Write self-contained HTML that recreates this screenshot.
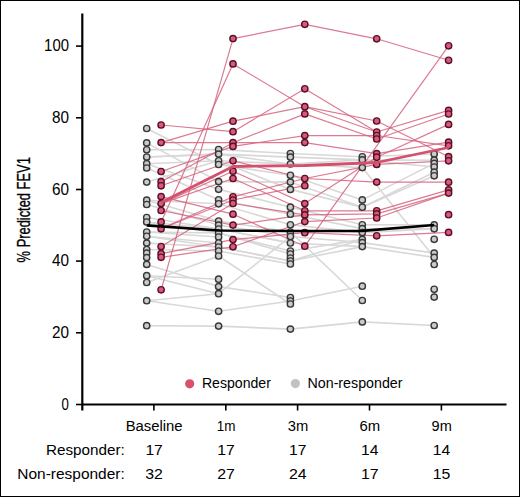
<!DOCTYPE html>
<html><head><meta charset="utf-8"><style>
html,body{margin:0;padding:0;background:#fff;}
body{width:520px;height:497px;overflow:hidden;}
svg{display:block;}
.t{font-family:"Liberation Sans",sans-serif;fill:#000;}
.l{font-family:"Liberation Sans",sans-serif;fill:#000;}
.yt{font-family:"Liberation Sans",sans-serif;fill:#000;stroke:#000;stroke-width:0.3px;}
</style></head><body>
<svg width="520" height="497" viewBox="0 0 520 497">
<rect x="0.5" y="0.5" width="519" height="496" fill="#fff" stroke="#000" stroke-width="1"/>
<polyline points="146.7,128.5 218.6,164.5 290.4,175.3 362.3,199.9 434.2,163.4" fill="none" stroke="#d8d8d8" stroke-width="1.6" stroke-opacity="1" stroke-linejoin="round"/>
<polyline points="146.7,142.9 218.6,181.6 290.4,182.1 362.3,207.2 434.2,172.2" fill="none" stroke="#d8d8d8" stroke-width="1.6" stroke-opacity="1" stroke-linejoin="round"/>
<polyline points="146.7,149.8 218.6,149.5 290.4,153.5 362.3,156.8 434.2,154.0" fill="none" stroke="#d8d8d8" stroke-width="1.6" stroke-opacity="1" stroke-linejoin="round"/>
<polyline points="146.7,157.0 218.6,154.1 290.4,157.1 362.3,159.9 434.2,160.2" fill="none" stroke="#d8d8d8" stroke-width="1.6" stroke-opacity="1" stroke-linejoin="round"/>
<polyline points="146.7,157.0 218.6,154.1 290.4,164.0 362.3,167.6 434.2,257.4" fill="none" stroke="#d8d8d8" stroke-width="1.6" stroke-opacity="1" stroke-linejoin="round"/>
<polyline points="146.7,163.7 218.6,160.8 290.4,189.4 362.3,207.2 434.2,175.8" fill="none" stroke="#d8d8d8" stroke-width="1.6" stroke-opacity="1" stroke-linejoin="round"/>
<polyline points="146.7,163.7 218.6,189.3 290.4,207.2 362.3,224.8 434.2,224.9" fill="none" stroke="#d8d8d8" stroke-width="1.6" stroke-opacity="1" stroke-linejoin="round"/>
<polyline points="146.7,168.0 218.6,199.8 290.4,214.2 362.3,228.6 434.2,228.8" fill="none" stroke="#d8d8d8" stroke-width="1.6" stroke-opacity="1" stroke-linejoin="round"/>
<polyline points="146.7,182.1 218.6,160.8 290.4,164.0 362.3,159.9 434.2,167.0" fill="none" stroke="#d8d8d8" stroke-width="1.6" stroke-opacity="1" stroke-linejoin="round"/>
<polyline points="146.7,200.2 218.6,203.8 290.4,224.8 362.3,232.6 434.2,228.8" fill="none" stroke="#d8d8d8" stroke-width="1.6" stroke-opacity="1" stroke-linejoin="round"/>
<polyline points="146.7,200.2 218.6,221.0 290.4,232.0 362.3,300.5" fill="none" stroke="#d8d8d8" stroke-width="1.6" stroke-opacity="1" stroke-linejoin="round"/>
<polyline points="146.7,204.5 218.6,225.1 290.4,236.5 362.3,242.6 434.2,253.1" fill="none" stroke="#d8d8d8" stroke-width="1.6" stroke-opacity="1" stroke-linejoin="round"/>
<polyline points="146.7,217.5 218.6,229.0 290.4,243.0 362.3,246.6 434.2,257.4" fill="none" stroke="#d8d8d8" stroke-width="1.6" stroke-opacity="1" stroke-linejoin="round"/>
<polyline points="146.7,222.0 218.6,229.0 290.4,243.0" fill="none" stroke="#d8d8d8" stroke-width="1.6" stroke-opacity="1" stroke-linejoin="round"/>
<polyline points="146.7,222.0 218.6,233.0 290.4,251.0 362.3,239.4" fill="none" stroke="#d8d8d8" stroke-width="1.6" stroke-opacity="1" stroke-linejoin="round"/>
<polyline points="146.7,232.0 218.6,233.0 290.4,254.0" fill="none" stroke="#d8d8d8" stroke-width="1.6" stroke-opacity="1" stroke-linejoin="round"/>
<polyline points="146.7,232.0 218.6,237.0" fill="none" stroke="#d8d8d8" stroke-width="1.6" stroke-opacity="1" stroke-linejoin="round"/>
<polyline points="146.7,236.3 218.6,243.0" fill="none" stroke="#d8d8d8" stroke-width="1.6" stroke-opacity="1" stroke-linejoin="round"/>
<polyline points="146.7,236.3 218.6,247.0 290.4,261.0 362.3,246.6" fill="none" stroke="#d8d8d8" stroke-width="1.6" stroke-opacity="1" stroke-linejoin="round"/>
<polyline points="146.7,243.1 218.6,247.0 290.4,261.0 362.3,239.4" fill="none" stroke="#d8d8d8" stroke-width="1.6" stroke-opacity="1" stroke-linejoin="round"/>
<polyline points="146.7,249.5 218.6,251.0 290.4,264.0" fill="none" stroke="#d8d8d8" stroke-width="1.6" stroke-opacity="1" stroke-linejoin="round"/>

<polyline points="146.7,282.5 218.6,256.0 290.4,304.0" fill="none" stroke="#d8d8d8" stroke-width="1.6" stroke-opacity="1" stroke-linejoin="round"/>


<polyline points="146.7,275.7 218.6,279.2" fill="none" stroke="#d8d8d8" stroke-width="1.6" stroke-opacity="1" stroke-linejoin="round"/>

<polyline points="146.7,275.7 218.6,293.7 290.4,236.5" fill="none" stroke="#d8d8d8" stroke-width="1.6" stroke-opacity="1" stroke-linejoin="round"/>
<polyline points="146.7,264.4 218.6,286.6 290.4,297.5" fill="none" stroke="#d8d8d8" stroke-width="1.6" stroke-opacity="1" stroke-linejoin="round"/>
<polyline points="146.7,300.7 218.6,311.3 290.4,301.0 362.3,286.2" fill="none" stroke="#d8d8d8" stroke-width="1.6" stroke-opacity="1" stroke-linejoin="round"/>
<polyline points="146.7,300.7 218.6,293.7" fill="none" stroke="#d8d8d8" stroke-width="1.6" stroke-opacity="1" stroke-linejoin="round"/>
<polyline points="146.7,325.7 218.6,326.1 290.4,329.1 362.3,321.9 434.2,325.5" fill="none" stroke="#d8d8d8" stroke-width="1.6" stroke-opacity="1" stroke-linejoin="round"/>
<polyline points="161.1,289.8 233.0,38.6 304.8,24.3 376.7,38.8 448.6,60.3" fill="none" stroke="#d6637f" stroke-width="1.2" stroke-opacity="0.85" stroke-linejoin="round"/>
<polyline points="161.1,221.9 233.0,63.9 304.8,106.7 376.7,121.0 448.6,156.7" fill="none" stroke="#d6637f" stroke-width="1.2" stroke-opacity="0.85" stroke-linejoin="round"/>
<polyline points="161.1,142.6 233.0,121.2 304.8,106.7 376.7,132.0" fill="none" stroke="#d6637f" stroke-width="1.2" stroke-opacity="0.85" stroke-linejoin="round"/>
<polyline points="161.1,125.0 233.0,131.7 304.8,88.8 376.7,132.0 448.6,110.4" fill="none" stroke="#d6637f" stroke-width="1.2" stroke-opacity="0.85" stroke-linejoin="round"/>
<polyline points="161.1,142.6 233.0,142.7 304.8,113.9 376.7,139.0 448.6,114.0" fill="none" stroke="#d6637f" stroke-width="1.2" stroke-opacity="0.85" stroke-linejoin="round"/>
<polyline points="161.1,171.5 233.0,146.4 304.8,135.6 376.7,135.5 448.6,145.8" fill="none" stroke="#d6637f" stroke-width="1.2" stroke-opacity="0.85" stroke-linejoin="round"/>
<polyline points="161.1,181.7 233.0,142.7 304.8,142.6 376.7,153.6 448.6,142.2" fill="none" stroke="#d6637f" stroke-width="1.2" stroke-opacity="0.85" stroke-linejoin="round"/>
<polyline points="161.1,185.8 233.0,160.8 304.8,178.5 376.7,182.1 448.6,182.2" fill="none" stroke="#d6637f" stroke-width="1.2" stroke-opacity="0.85" stroke-linejoin="round"/>
<polyline points="161.1,203.6 233.0,171.2 304.8,203.6 376.7,157.2 448.6,124.4" fill="none" stroke="#d6637f" stroke-width="1.2" stroke-opacity="0.85" stroke-linejoin="round"/>
<polyline points="161.1,203.6 233.0,178.5 304.8,210.8 376.7,210.8 448.6,189.9" fill="none" stroke="#d6637f" stroke-width="1.2" stroke-opacity="0.85" stroke-linejoin="round"/>
<polyline points="161.1,228.8 233.0,196.8 304.8,178.5 376.7,164.4 448.6,160.8" fill="none" stroke="#d6637f" stroke-width="1.2" stroke-opacity="0.85" stroke-linejoin="round"/>
<polyline points="161.1,228.8 233.0,200.0 304.8,185.7" fill="none" stroke="#d6637f" stroke-width="1.2" stroke-opacity="0.85" stroke-linejoin="round"/>
<polyline points="161.1,196.6 233.0,214.2 304.8,246.2 448.6,45.8" fill="none" stroke="#d6637f" stroke-width="1.2" stroke-opacity="0.85" stroke-linejoin="round"/>
<polyline points="161.1,246.5 233.0,203.5 304.8,214.9 376.7,213.9 448.6,193.1" fill="none" stroke="#d6637f" stroke-width="1.2" stroke-opacity="0.85" stroke-linejoin="round"/>
<polyline points="161.1,210.5 233.0,225.1 304.8,214.9" fill="none" stroke="#d6637f" stroke-width="1.2" stroke-opacity="0.85" stroke-linejoin="round"/>
<polyline points="161.1,253.7 233.0,239.6 304.8,232.7 376.7,235.8 448.6,232.4" fill="none" stroke="#d6637f" stroke-width="1.2" stroke-opacity="0.85" stroke-linejoin="round"/>
<polyline points="161.1,257.3 233.0,246.8 304.8,221.6 376.7,218.0 448.6,193.1" fill="none" stroke="#d6637f" stroke-width="1.2" stroke-opacity="0.85" stroke-linejoin="round"/>
<circle cx="146.7" cy="128.5" r="3.15" fill="#cbcbcb" stroke="#383838" stroke-width="1.4"/>
<circle cx="146.7" cy="142.9" r="3.15" fill="#cbcbcb" stroke="#383838" stroke-width="1.4"/>
<circle cx="146.7" cy="149.8" r="3.15" fill="#cbcbcb" stroke="#383838" stroke-width="1.4"/>
<circle cx="146.7" cy="157.0" r="3.15" fill="#cbcbcb" stroke="#383838" stroke-width="1.4"/>
<circle cx="146.7" cy="163.7" r="3.15" fill="#cbcbcb" stroke="#383838" stroke-width="1.4"/>
<circle cx="146.7" cy="168.0" r="3.15" fill="#cbcbcb" stroke="#383838" stroke-width="1.4"/>
<circle cx="146.7" cy="182.1" r="3.15" fill="#cbcbcb" stroke="#383838" stroke-width="1.4"/>
<circle cx="146.7" cy="200.2" r="3.15" fill="#cbcbcb" stroke="#383838" stroke-width="1.4"/>
<circle cx="146.7" cy="204.5" r="3.15" fill="#cbcbcb" stroke="#383838" stroke-width="1.4"/>
<circle cx="146.7" cy="217.5" r="3.15" fill="#cbcbcb" stroke="#383838" stroke-width="1.4"/>
<circle cx="146.7" cy="222.0" r="3.15" fill="#cbcbcb" stroke="#383838" stroke-width="1.4"/>
<circle cx="146.7" cy="232.0" r="3.15" fill="#cbcbcb" stroke="#383838" stroke-width="1.4"/>
<circle cx="146.7" cy="236.3" r="3.15" fill="#cbcbcb" stroke="#383838" stroke-width="1.4"/>
<circle cx="146.7" cy="243.1" r="3.15" fill="#cbcbcb" stroke="#383838" stroke-width="1.4"/>
<circle cx="146.7" cy="249.5" r="3.15" fill="#cbcbcb" stroke="#383838" stroke-width="1.4"/>
<circle cx="146.7" cy="253.1" r="3.15" fill="#cbcbcb" stroke="#383838" stroke-width="1.4"/>
<circle cx="146.7" cy="257.6" r="3.15" fill="#cbcbcb" stroke="#383838" stroke-width="1.4"/>
<circle cx="146.7" cy="264.4" r="3.15" fill="#cbcbcb" stroke="#383838" stroke-width="1.4"/>
<circle cx="146.7" cy="275.7" r="3.15" fill="#cbcbcb" stroke="#383838" stroke-width="1.4"/>
<circle cx="146.7" cy="282.5" r="3.15" fill="#cbcbcb" stroke="#383838" stroke-width="1.4"/>
<circle cx="146.7" cy="300.7" r="3.15" fill="#cbcbcb" stroke="#383838" stroke-width="1.4"/>
<circle cx="146.7" cy="325.7" r="3.15" fill="#cbcbcb" stroke="#383838" stroke-width="1.4"/>
<circle cx="218.6" cy="149.5" r="3.15" fill="#cbcbcb" stroke="#383838" stroke-width="1.4"/>
<circle cx="218.6" cy="154.1" r="3.15" fill="#cbcbcb" stroke="#383838" stroke-width="1.4"/>
<circle cx="218.6" cy="160.8" r="3.15" fill="#cbcbcb" stroke="#383838" stroke-width="1.4"/>
<circle cx="218.6" cy="164.5" r="3.15" fill="#cbcbcb" stroke="#383838" stroke-width="1.4"/>
<circle cx="218.6" cy="181.6" r="3.15" fill="#cbcbcb" stroke="#383838" stroke-width="1.4"/>
<circle cx="218.6" cy="189.3" r="3.15" fill="#cbcbcb" stroke="#383838" stroke-width="1.4"/>
<circle cx="218.6" cy="199.8" r="3.15" fill="#cbcbcb" stroke="#383838" stroke-width="1.4"/>
<circle cx="218.6" cy="203.8" r="3.15" fill="#cbcbcb" stroke="#383838" stroke-width="1.4"/>
<circle cx="218.6" cy="221.0" r="3.15" fill="#cbcbcb" stroke="#383838" stroke-width="1.4"/>
<circle cx="218.6" cy="225.1" r="3.15" fill="#cbcbcb" stroke="#383838" stroke-width="1.4"/>
<circle cx="218.6" cy="229.0" r="3.15" fill="#cbcbcb" stroke="#383838" stroke-width="1.4"/>
<circle cx="218.6" cy="233.0" r="3.15" fill="#cbcbcb" stroke="#383838" stroke-width="1.4"/>
<circle cx="218.6" cy="237.0" r="3.15" fill="#cbcbcb" stroke="#383838" stroke-width="1.4"/>
<circle cx="218.6" cy="243.0" r="3.15" fill="#cbcbcb" stroke="#383838" stroke-width="1.4"/>
<circle cx="218.6" cy="247.0" r="3.15" fill="#cbcbcb" stroke="#383838" stroke-width="1.4"/>
<circle cx="218.6" cy="251.0" r="3.15" fill="#cbcbcb" stroke="#383838" stroke-width="1.4"/>
<circle cx="218.6" cy="256.0" r="3.15" fill="#cbcbcb" stroke="#383838" stroke-width="1.4"/>
<circle cx="218.6" cy="279.2" r="3.15" fill="#cbcbcb" stroke="#383838" stroke-width="1.4"/>
<circle cx="218.6" cy="286.6" r="3.15" fill="#cbcbcb" stroke="#383838" stroke-width="1.4"/>
<circle cx="218.6" cy="293.7" r="3.15" fill="#cbcbcb" stroke="#383838" stroke-width="1.4"/>
<circle cx="218.6" cy="311.3" r="3.15" fill="#cbcbcb" stroke="#383838" stroke-width="1.4"/>
<circle cx="218.6" cy="326.1" r="3.15" fill="#cbcbcb" stroke="#383838" stroke-width="1.4"/>
<circle cx="290.4" cy="153.5" r="3.15" fill="#cbcbcb" stroke="#383838" stroke-width="1.4"/>
<circle cx="290.4" cy="157.1" r="3.15" fill="#cbcbcb" stroke="#383838" stroke-width="1.4"/>
<circle cx="290.4" cy="164.0" r="3.15" fill="#cbcbcb" stroke="#383838" stroke-width="1.4"/>
<circle cx="290.4" cy="175.3" r="3.15" fill="#cbcbcb" stroke="#383838" stroke-width="1.4"/>
<circle cx="290.4" cy="182.1" r="3.15" fill="#cbcbcb" stroke="#383838" stroke-width="1.4"/>
<circle cx="290.4" cy="189.4" r="3.15" fill="#cbcbcb" stroke="#383838" stroke-width="1.4"/>
<circle cx="290.4" cy="207.2" r="3.15" fill="#cbcbcb" stroke="#383838" stroke-width="1.4"/>
<circle cx="290.4" cy="214.2" r="3.15" fill="#cbcbcb" stroke="#383838" stroke-width="1.4"/>
<circle cx="290.4" cy="224.8" r="3.15" fill="#cbcbcb" stroke="#383838" stroke-width="1.4"/>
<circle cx="290.4" cy="232.0" r="3.15" fill="#cbcbcb" stroke="#383838" stroke-width="1.4"/>
<circle cx="290.4" cy="236.5" r="3.15" fill="#cbcbcb" stroke="#383838" stroke-width="1.4"/>
<circle cx="290.4" cy="243.0" r="3.15" fill="#cbcbcb" stroke="#383838" stroke-width="1.4"/>
<circle cx="290.4" cy="251.0" r="3.15" fill="#cbcbcb" stroke="#383838" stroke-width="1.4"/>
<circle cx="290.4" cy="254.0" r="3.15" fill="#cbcbcb" stroke="#383838" stroke-width="1.4"/>
<circle cx="290.4" cy="258.0" r="3.15" fill="#cbcbcb" stroke="#383838" stroke-width="1.4"/>
<circle cx="290.4" cy="261.0" r="3.15" fill="#cbcbcb" stroke="#383838" stroke-width="1.4"/>
<circle cx="290.4" cy="264.0" r="3.15" fill="#cbcbcb" stroke="#383838" stroke-width="1.4"/>
<circle cx="290.4" cy="297.5" r="3.15" fill="#cbcbcb" stroke="#383838" stroke-width="1.4"/>
<circle cx="290.4" cy="301.0" r="3.15" fill="#cbcbcb" stroke="#383838" stroke-width="1.4"/>
<circle cx="290.4" cy="304.0" r="3.15" fill="#cbcbcb" stroke="#383838" stroke-width="1.4"/>
<circle cx="290.4" cy="329.1" r="3.15" fill="#cbcbcb" stroke="#383838" stroke-width="1.4"/>
<circle cx="362.3" cy="156.8" r="3.15" fill="#cbcbcb" stroke="#383838" stroke-width="1.4"/>
<circle cx="362.3" cy="159.9" r="3.15" fill="#cbcbcb" stroke="#383838" stroke-width="1.4"/>
<circle cx="362.3" cy="167.6" r="3.15" fill="#cbcbcb" stroke="#383838" stroke-width="1.4"/>
<circle cx="362.3" cy="199.9" r="3.15" fill="#cbcbcb" stroke="#383838" stroke-width="1.4"/>
<circle cx="362.3" cy="207.2" r="3.15" fill="#cbcbcb" stroke="#383838" stroke-width="1.4"/>
<circle cx="362.3" cy="224.8" r="3.15" fill="#cbcbcb" stroke="#383838" stroke-width="1.4"/>
<circle cx="362.3" cy="228.6" r="3.15" fill="#cbcbcb" stroke="#383838" stroke-width="1.4"/>
<circle cx="362.3" cy="232.6" r="3.15" fill="#cbcbcb" stroke="#383838" stroke-width="1.4"/>
<circle cx="362.3" cy="239.4" r="3.15" fill="#cbcbcb" stroke="#383838" stroke-width="1.4"/>
<circle cx="362.3" cy="242.6" r="3.15" fill="#cbcbcb" stroke="#383838" stroke-width="1.4"/>
<circle cx="362.3" cy="246.6" r="3.15" fill="#cbcbcb" stroke="#383838" stroke-width="1.4"/>
<circle cx="362.3" cy="286.2" r="3.15" fill="#cbcbcb" stroke="#383838" stroke-width="1.4"/>
<circle cx="362.3" cy="300.5" r="3.15" fill="#cbcbcb" stroke="#383838" stroke-width="1.4"/>
<circle cx="362.3" cy="321.9" r="3.15" fill="#cbcbcb" stroke="#383838" stroke-width="1.4"/>
<circle cx="434.2" cy="154.0" r="3.15" fill="#cbcbcb" stroke="#383838" stroke-width="1.4"/>
<circle cx="434.2" cy="160.2" r="3.15" fill="#cbcbcb" stroke="#383838" stroke-width="1.4"/>
<circle cx="434.2" cy="163.4" r="3.15" fill="#cbcbcb" stroke="#383838" stroke-width="1.4"/>
<circle cx="434.2" cy="167.0" r="3.15" fill="#cbcbcb" stroke="#383838" stroke-width="1.4"/>
<circle cx="434.2" cy="172.2" r="3.15" fill="#cbcbcb" stroke="#383838" stroke-width="1.4"/>
<circle cx="434.2" cy="175.8" r="3.15" fill="#cbcbcb" stroke="#383838" stroke-width="1.4"/>
<circle cx="434.2" cy="224.9" r="3.15" fill="#cbcbcb" stroke="#383838" stroke-width="1.4"/>
<circle cx="434.2" cy="228.8" r="3.15" fill="#cbcbcb" stroke="#383838" stroke-width="1.4"/>
<circle cx="434.2" cy="239.3" r="3.15" fill="#cbcbcb" stroke="#383838" stroke-width="1.4"/>
<circle cx="434.2" cy="253.1" r="3.15" fill="#cbcbcb" stroke="#383838" stroke-width="1.4"/>
<circle cx="434.2" cy="257.4" r="3.15" fill="#cbcbcb" stroke="#383838" stroke-width="1.4"/>
<circle cx="434.2" cy="264.5" r="3.15" fill="#cbcbcb" stroke="#383838" stroke-width="1.4"/>
<circle cx="434.2" cy="289.3" r="3.15" fill="#cbcbcb" stroke="#383838" stroke-width="1.4"/>
<circle cx="434.2" cy="297.1" r="3.15" fill="#cbcbcb" stroke="#383838" stroke-width="1.4"/>
<circle cx="434.2" cy="325.5" r="3.15" fill="#cbcbcb" stroke="#383838" stroke-width="1.4"/>
<circle cx="161.1" cy="125.0" r="3.15" fill="#d85c7a" stroke="#5c1028" stroke-width="1.4"/>
<circle cx="161.1" cy="142.6" r="3.15" fill="#d85c7a" stroke="#5c1028" stroke-width="1.4"/>
<circle cx="161.1" cy="171.5" r="3.15" fill="#d85c7a" stroke="#5c1028" stroke-width="1.4"/>
<circle cx="161.1" cy="181.7" r="3.15" fill="#d85c7a" stroke="#5c1028" stroke-width="1.4"/>
<circle cx="161.1" cy="185.8" r="3.15" fill="#d85c7a" stroke="#5c1028" stroke-width="1.4"/>
<circle cx="161.1" cy="196.6" r="3.15" fill="#d85c7a" stroke="#5c1028" stroke-width="1.4"/>
<circle cx="161.1" cy="203.6" r="3.15" fill="#d85c7a" stroke="#5c1028" stroke-width="1.4"/>
<circle cx="161.1" cy="210.5" r="3.15" fill="#d85c7a" stroke="#5c1028" stroke-width="1.4"/>
<circle cx="161.1" cy="221.9" r="3.15" fill="#d85c7a" stroke="#5c1028" stroke-width="1.4"/>
<circle cx="161.1" cy="228.8" r="3.15" fill="#d85c7a" stroke="#5c1028" stroke-width="1.4"/>
<circle cx="161.1" cy="246.5" r="3.15" fill="#d85c7a" stroke="#5c1028" stroke-width="1.4"/>
<circle cx="161.1" cy="253.7" r="3.15" fill="#d85c7a" stroke="#5c1028" stroke-width="1.4"/>
<circle cx="161.1" cy="257.3" r="3.15" fill="#d85c7a" stroke="#5c1028" stroke-width="1.4"/>
<circle cx="161.1" cy="289.8" r="3.15" fill="#d85c7a" stroke="#5c1028" stroke-width="1.4"/>
<circle cx="233.0" cy="38.6" r="3.15" fill="#d85c7a" stroke="#5c1028" stroke-width="1.4"/>
<circle cx="233.0" cy="63.9" r="3.15" fill="#d85c7a" stroke="#5c1028" stroke-width="1.4"/>
<circle cx="233.0" cy="121.2" r="3.15" fill="#d85c7a" stroke="#5c1028" stroke-width="1.4"/>
<circle cx="233.0" cy="131.7" r="3.15" fill="#d85c7a" stroke="#5c1028" stroke-width="1.4"/>
<circle cx="233.0" cy="142.7" r="3.15" fill="#d85c7a" stroke="#5c1028" stroke-width="1.4"/>
<circle cx="233.0" cy="146.4" r="3.15" fill="#d85c7a" stroke="#5c1028" stroke-width="1.4"/>
<circle cx="233.0" cy="160.8" r="3.15" fill="#d85c7a" stroke="#5c1028" stroke-width="1.4"/>
<circle cx="233.0" cy="171.2" r="3.15" fill="#d85c7a" stroke="#5c1028" stroke-width="1.4"/>
<circle cx="233.0" cy="178.5" r="3.15" fill="#d85c7a" stroke="#5c1028" stroke-width="1.4"/>
<circle cx="233.0" cy="196.8" r="3.15" fill="#d85c7a" stroke="#5c1028" stroke-width="1.4"/>
<circle cx="233.0" cy="200.0" r="3.15" fill="#d85c7a" stroke="#5c1028" stroke-width="1.4"/>
<circle cx="233.0" cy="203.5" r="3.15" fill="#d85c7a" stroke="#5c1028" stroke-width="1.4"/>
<circle cx="233.0" cy="214.2" r="3.15" fill="#d85c7a" stroke="#5c1028" stroke-width="1.4"/>
<circle cx="233.0" cy="225.1" r="3.15" fill="#d85c7a" stroke="#5c1028" stroke-width="1.4"/>
<circle cx="233.0" cy="239.6" r="3.15" fill="#d85c7a" stroke="#5c1028" stroke-width="1.4"/>
<circle cx="233.0" cy="246.8" r="3.15" fill="#d85c7a" stroke="#5c1028" stroke-width="1.4"/>
<circle cx="304.8" cy="24.3" r="3.15" fill="#d85c7a" stroke="#5c1028" stroke-width="1.4"/>
<circle cx="304.8" cy="88.8" r="3.15" fill="#d85c7a" stroke="#5c1028" stroke-width="1.4"/>
<circle cx="304.8" cy="106.7" r="3.15" fill="#d85c7a" stroke="#5c1028" stroke-width="1.4"/>
<circle cx="304.8" cy="113.9" r="3.15" fill="#d85c7a" stroke="#5c1028" stroke-width="1.4"/>
<circle cx="304.8" cy="135.6" r="3.15" fill="#d85c7a" stroke="#5c1028" stroke-width="1.4"/>
<circle cx="304.8" cy="142.6" r="3.15" fill="#d85c7a" stroke="#5c1028" stroke-width="1.4"/>
<circle cx="304.8" cy="178.5" r="3.15" fill="#d85c7a" stroke="#5c1028" stroke-width="1.4"/>
<circle cx="304.8" cy="185.7" r="3.15" fill="#d85c7a" stroke="#5c1028" stroke-width="1.4"/>
<circle cx="304.8" cy="203.6" r="3.15" fill="#d85c7a" stroke="#5c1028" stroke-width="1.4"/>
<circle cx="304.8" cy="210.8" r="3.15" fill="#d85c7a" stroke="#5c1028" stroke-width="1.4"/>
<circle cx="304.8" cy="214.9" r="3.15" fill="#d85c7a" stroke="#5c1028" stroke-width="1.4"/>
<circle cx="304.8" cy="221.6" r="3.15" fill="#d85c7a" stroke="#5c1028" stroke-width="1.4"/>
<circle cx="304.8" cy="232.7" r="3.15" fill="#d85c7a" stroke="#5c1028" stroke-width="1.4"/>
<circle cx="304.8" cy="246.2" r="3.15" fill="#d85c7a" stroke="#5c1028" stroke-width="1.4"/>
<circle cx="376.7" cy="38.8" r="3.15" fill="#d85c7a" stroke="#5c1028" stroke-width="1.4"/>
<circle cx="376.7" cy="121.0" r="3.15" fill="#d85c7a" stroke="#5c1028" stroke-width="1.4"/>
<circle cx="376.7" cy="132.0" r="3.15" fill="#d85c7a" stroke="#5c1028" stroke-width="1.4"/>
<circle cx="376.7" cy="135.5" r="3.15" fill="#d85c7a" stroke="#5c1028" stroke-width="1.4"/>
<circle cx="376.7" cy="139.0" r="3.15" fill="#d85c7a" stroke="#5c1028" stroke-width="1.4"/>
<circle cx="376.7" cy="153.6" r="3.15" fill="#d85c7a" stroke="#5c1028" stroke-width="1.4"/>
<circle cx="376.7" cy="157.2" r="3.15" fill="#d85c7a" stroke="#5c1028" stroke-width="1.4"/>
<circle cx="376.7" cy="164.4" r="3.15" fill="#d85c7a" stroke="#5c1028" stroke-width="1.4"/>
<circle cx="376.7" cy="182.1" r="3.15" fill="#d85c7a" stroke="#5c1028" stroke-width="1.4"/>
<circle cx="376.7" cy="210.8" r="3.15" fill="#d85c7a" stroke="#5c1028" stroke-width="1.4"/>
<circle cx="376.7" cy="213.9" r="3.15" fill="#d85c7a" stroke="#5c1028" stroke-width="1.4"/>
<circle cx="376.7" cy="218.0" r="3.15" fill="#d85c7a" stroke="#5c1028" stroke-width="1.4"/>
<circle cx="376.7" cy="235.8" r="3.15" fill="#d85c7a" stroke="#5c1028" stroke-width="1.4"/>
<circle cx="448.6" cy="45.8" r="3.15" fill="#d85c7a" stroke="#5c1028" stroke-width="1.4"/>
<circle cx="448.6" cy="60.3" r="3.15" fill="#d85c7a" stroke="#5c1028" stroke-width="1.4"/>
<circle cx="448.6" cy="110.4" r="3.15" fill="#d85c7a" stroke="#5c1028" stroke-width="1.4"/>
<circle cx="448.6" cy="114.0" r="3.15" fill="#d85c7a" stroke="#5c1028" stroke-width="1.4"/>
<circle cx="448.6" cy="124.4" r="3.15" fill="#d85c7a" stroke="#5c1028" stroke-width="1.4"/>
<circle cx="448.6" cy="142.2" r="3.15" fill="#d85c7a" stroke="#5c1028" stroke-width="1.4"/>
<circle cx="448.6" cy="145.8" r="3.15" fill="#d85c7a" stroke="#5c1028" stroke-width="1.4"/>
<circle cx="448.6" cy="156.7" r="3.15" fill="#d85c7a" stroke="#5c1028" stroke-width="1.4"/>
<circle cx="448.6" cy="160.8" r="3.15" fill="#d85c7a" stroke="#5c1028" stroke-width="1.4"/>
<circle cx="448.6" cy="182.2" r="3.15" fill="#d85c7a" stroke="#5c1028" stroke-width="1.4"/>
<circle cx="448.6" cy="189.9" r="3.15" fill="#d85c7a" stroke="#5c1028" stroke-width="1.4"/>
<circle cx="448.6" cy="193.1" r="3.15" fill="#d85c7a" stroke="#5c1028" stroke-width="1.4"/>
<circle cx="448.6" cy="214.7" r="3.15" fill="#d85c7a" stroke="#5c1028" stroke-width="1.4"/>
<circle cx="448.6" cy="232.4" r="3.15" fill="#d85c7a" stroke="#5c1028" stroke-width="1.4"/>
<polyline points="146.7,225.4 218.6,230.5 290.4,231.0 362.3,230.8 434.2,225.0" fill="none" stroke="#000" stroke-width="2.7" stroke-opacity="1" stroke-linejoin="round"/>
<polyline points="161.1,202.5 233.0,166.5 304.8,165.5 376.7,162.5 448.6,147.5" fill="none" stroke="#d4506f" stroke-width="2.8" stroke-opacity="1" stroke-linejoin="round"/>
<line x1="82.3" y1="13.5" x2="82.3" y2="410.5" stroke="#000" stroke-width="2.2"/>
<line x1="81.5" y1="404.5" x2="506.5" y2="404.5" stroke="#000" stroke-width="2.2"/>
<line x1="76" y1="404.5" x2="82" y2="404.5" stroke="#000" stroke-width="1.6"/>
<text x="61.60" y="409.80" textLength="7.35" lengthAdjust="spacingAndGlyphs" style="font-size:16.40px" class="t">0</text>
<line x1="76" y1="332.8" x2="82" y2="332.8" stroke="#000" stroke-width="1.6"/>
<text x="52.00" y="338.12" textLength="17.03" lengthAdjust="spacingAndGlyphs" style="font-size:16.40px" class="t">20</text>
<line x1="76" y1="261.1" x2="82" y2="261.1" stroke="#000" stroke-width="1.6"/>
<text x="52.00" y="266.44" textLength="17.03" lengthAdjust="spacingAndGlyphs" style="font-size:16.40px" class="t">40</text>
<line x1="76" y1="189.5" x2="82" y2="189.5" stroke="#000" stroke-width="1.6"/>
<text x="52.00" y="194.76" textLength="17.03" lengthAdjust="spacingAndGlyphs" style="font-size:16.40px" class="t">60</text>
<line x1="76" y1="117.8" x2="82" y2="117.8" stroke="#000" stroke-width="1.6"/>
<text x="52.00" y="123.08" textLength="17.03" lengthAdjust="spacingAndGlyphs" style="font-size:16.40px" class="t">80</text>
<line x1="76" y1="46.1" x2="82" y2="46.1" stroke="#000" stroke-width="1.6"/>
<text x="44.10" y="51.40" textLength="24.87" lengthAdjust="spacingAndGlyphs" style="font-size:16.40px" class="t">100</text>
<line x1="153.9" y1="404" x2="153.9" y2="410.5" stroke="#000" stroke-width="1.6"/>
<text x="125.70" y="430.60" textLength="56.94" lengthAdjust="spacingAndGlyphs" style="font-size:15.30px" class="t">Baseline</text>
<text x="145.40" y="454.60" textLength="17.43" lengthAdjust="spacingAndGlyphs" style="font-size:15.30px" class="t">17</text>
<text x="145.30" y="478.60" textLength="17.63" lengthAdjust="spacingAndGlyphs" style="font-size:15.30px" class="t">32</text>
<line x1="225.8" y1="404" x2="225.8" y2="410.5" stroke="#000" stroke-width="1.6"/>
<text x="216.72" y="430.60" textLength="18.69" lengthAdjust="spacingAndGlyphs" style="font-size:15.30px" class="t">1m</text>
<text x="217.27" y="454.60" textLength="17.43" lengthAdjust="spacingAndGlyphs" style="font-size:15.30px" class="t">17</text>
<text x="217.17" y="478.60" textLength="17.63" lengthAdjust="spacingAndGlyphs" style="font-size:15.30px" class="t">27</text>
<line x1="297.6" y1="404" x2="297.6" y2="410.5" stroke="#000" stroke-width="1.6"/>
<text x="287.69" y="430.60" textLength="20.49" lengthAdjust="spacingAndGlyphs" style="font-size:15.30px" class="t">3m</text>
<text x="289.14" y="454.60" textLength="17.43" lengthAdjust="spacingAndGlyphs" style="font-size:15.30px" class="t">17</text>
<text x="289.04" y="478.60" textLength="17.63" lengthAdjust="spacingAndGlyphs" style="font-size:15.30px" class="t">24</text>
<line x1="369.5" y1="404" x2="369.5" y2="410.5" stroke="#000" stroke-width="1.6"/>
<text x="359.46" y="430.60" textLength="20.69" lengthAdjust="spacingAndGlyphs" style="font-size:15.30px" class="t">6m</text>
<text x="361.01" y="454.60" textLength="17.43" lengthAdjust="spacingAndGlyphs" style="font-size:15.30px" class="t">14</text>
<text x="360.91" y="478.60" textLength="17.63" lengthAdjust="spacingAndGlyphs" style="font-size:15.30px" class="t">17</text>
<line x1="441.4" y1="404" x2="441.4" y2="410.5" stroke="#000" stroke-width="1.6"/>
<text x="431.58" y="430.60" textLength="20.19" lengthAdjust="spacingAndGlyphs" style="font-size:15.30px" class="t">9m</text>
<text x="432.88" y="454.60" textLength="17.43" lengthAdjust="spacingAndGlyphs" style="font-size:15.30px" class="t">14</text>
<text x="432.78" y="478.60" textLength="17.63" lengthAdjust="spacingAndGlyphs" style="font-size:15.30px" class="t">15</text>
<text x="45.90" y="454.80" textLength="78.89" lengthAdjust="spacingAndGlyphs" style="font-size:15.30px" class="t">Responder:</text>
<text x="17.30" y="478.80" textLength="107.46" lengthAdjust="spacingAndGlyphs" style="font-size:15.30px" class="t">Non-responder:</text>
<circle cx="189.7" cy="383.8" r="4.6" fill="#d9506c"/>
<text x="201.90" y="388.20" textLength="69.02" lengthAdjust="spacingAndGlyphs" style="font-size:14.00px" class="l">Responder</text>
<circle cx="295.4" cy="383.6" r="4.6" fill="#c2c2c2"/>
<text x="307.50" y="388.10" textLength="95.00" lengthAdjust="spacingAndGlyphs" style="font-size:14.00px" class="l">Non-responder</text>
<text transform="translate(29.6,262.40) rotate(-90)" x="0.00" y="0" textLength="105.20" lengthAdjust="spacingAndGlyphs" style="font-size:17.5px" class="yt">% Predicted FEV1</text>
</svg>
</body></html>
